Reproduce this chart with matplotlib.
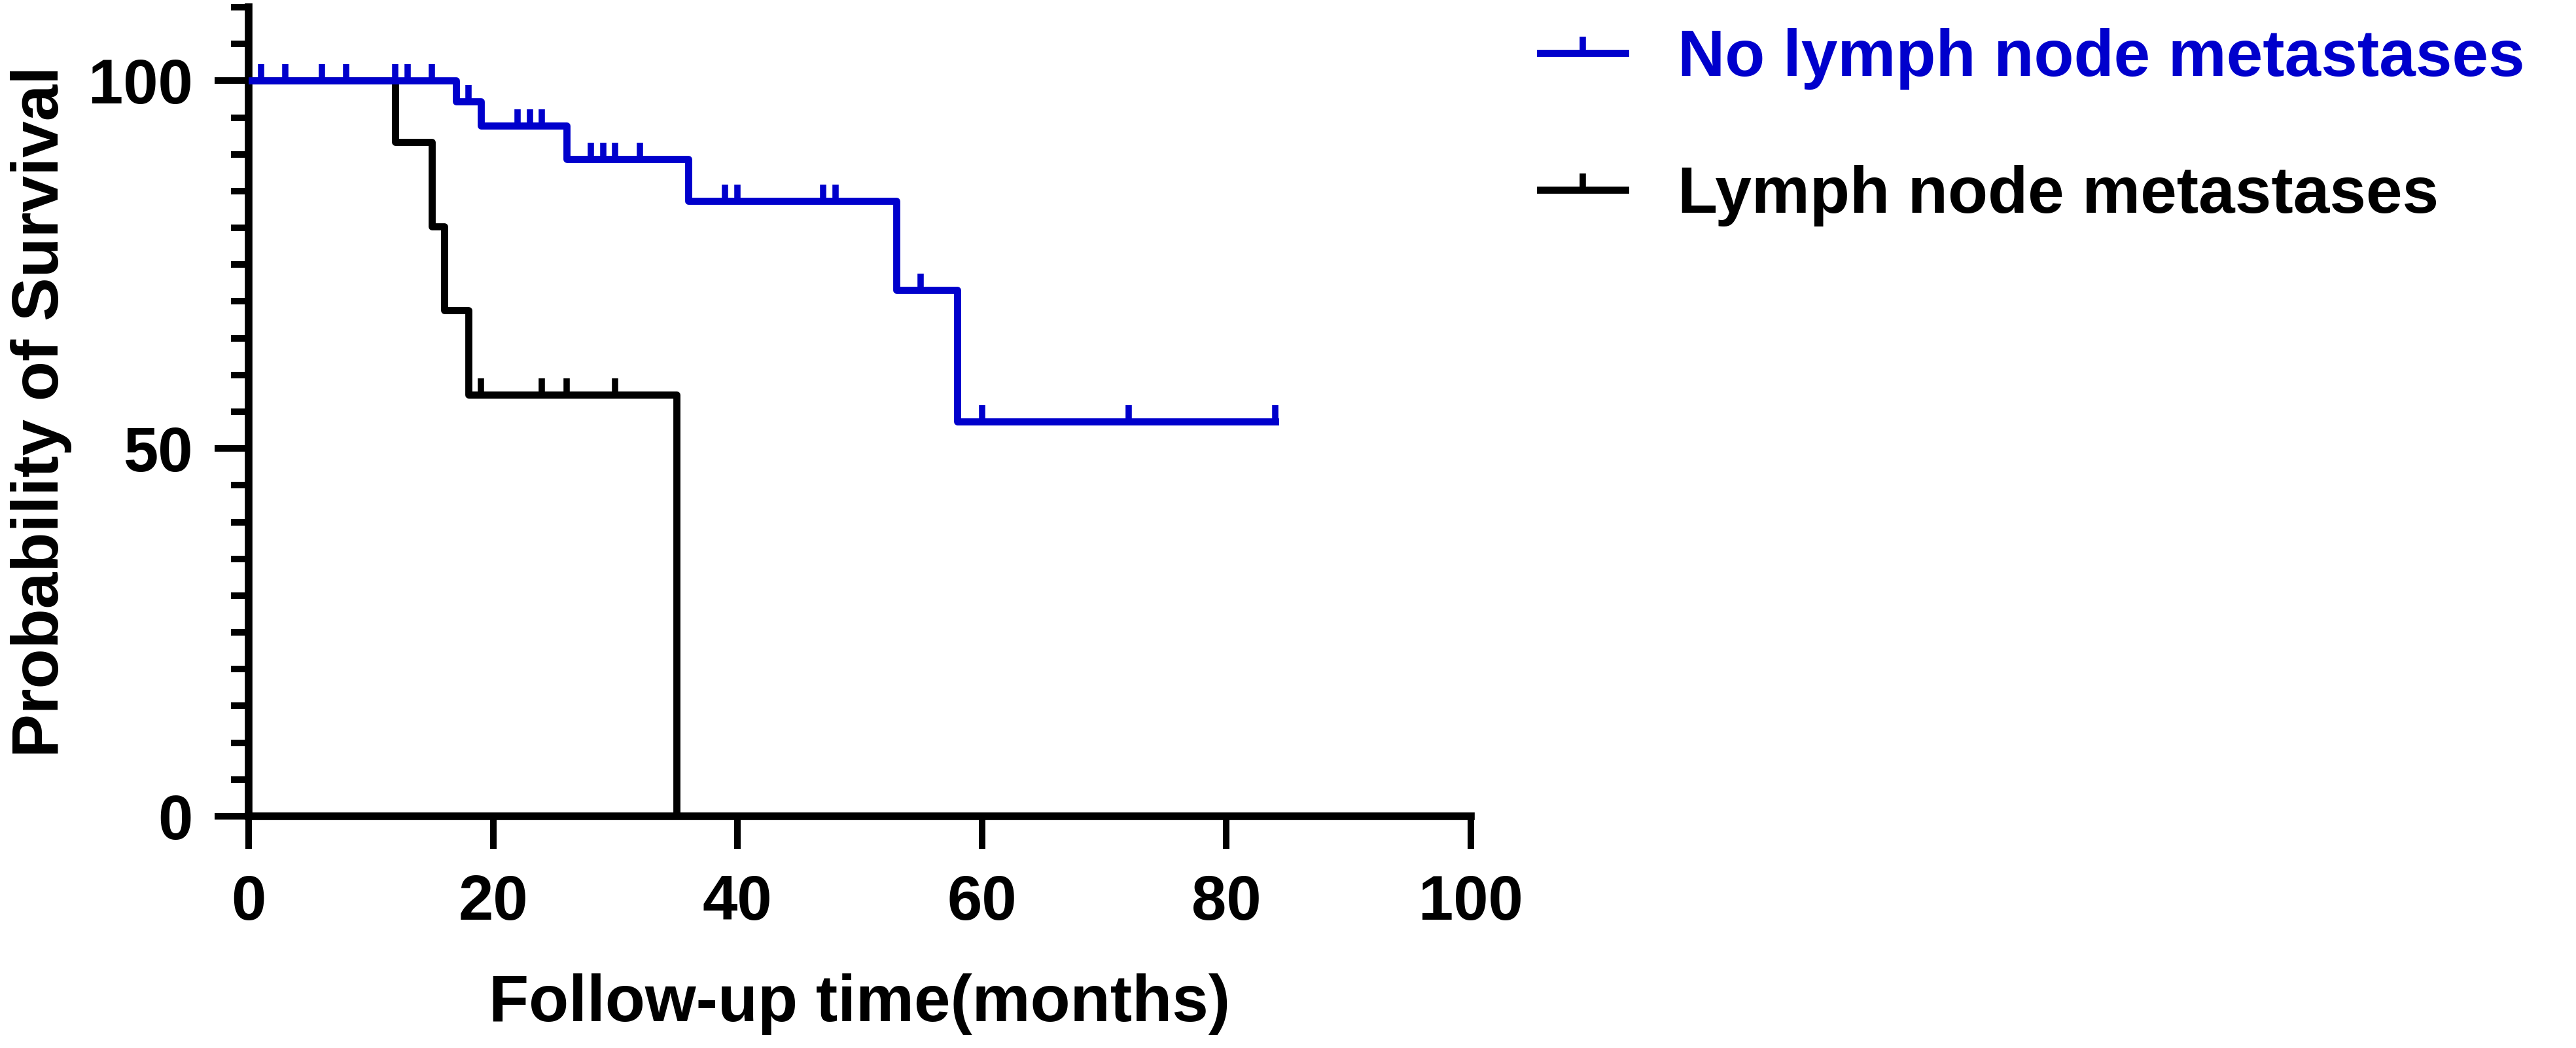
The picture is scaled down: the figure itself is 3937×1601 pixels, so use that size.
import matplotlib
matplotlib.use("Agg")
import matplotlib.pyplot as plt
from matplotlib.lines import Line2D
from matplotlib.ticker import MultipleLocator

plt.rcParams['font.family'] = ['Liberation Sans', 'DejaVu Sans']
plt.rcParams['font.weight'] = 'bold'

# survival curves (months, percent)
no_lnm_times = [0, 17, 19, 26, 36, 53, 58, 84]
no_lnm_surv = [100, 97.2, 93.9, 89.4, 83.7, 71.6, 53.7, 53.7]
no_lnm_cens_t = [1, 3, 6, 8, 12, 13, 15, 18, 22, 23, 24, 28, 29, 30, 32,
                 39, 40, 47, 48, 55, 60, 72, 84]

lnm_times = [0, 12, 15, 16, 18, 35]
lnm_surv = [100, 91.7, 80.2, 68.8, 57.3, 0]
lnm_cens_t = [19, 24, 26, 30]

labels = ["No lymph node metastases", "Lymph node metastases"]
colors = ["#0000CC", "#000000"]


def surv_at(times, surv, t):
    s = surv[0]
    for ti, si in zip(times, surv):
        if ti <= t:
            s = si
    return s


# upward censor tick
cens_marker = [(0, 0), (0, 1)]
LW = 2.6

fig = plt.figure(figsize=(3937 / 300, 1601 / 300), dpi=300)
ax = fig.add_axes([0.0965, 0.2211, 0.4745, 0.772])

ax.step(lnm_times, lnm_surv, where='post', color=colors[1], lw=LW,
        solid_joinstyle='round', zorder=3)
ax.plot(lnm_cens_t, [surv_at(lnm_times, lnm_surv, t) for t in lnm_cens_t],
        ls='none', marker=cens_marker, ms=12, mew=2.3, color=colors[1], zorder=3)

ax.step(no_lnm_times, no_lnm_surv, where='post', color=colors[0], lw=LW,
        solid_joinstyle='round', zorder=4)
ax.plot(no_lnm_cens_t, [surv_at(no_lnm_times, no_lnm_surv, t) for t in no_lnm_cens_t],
        ls='none', marker=cens_marker, ms=12, mew=2.3, color=colors[0], zorder=4)

ax.set_xlim(0, 100)
ax.set_ylim(0, 110)
ax.set_xticks([0, 20, 40, 60, 80, 100])
ax.set_yticks([0, 50, 100])
ax.yaxis.set_minor_locator(MultipleLocator(5))

for side in ['top', 'right']:
    ax.spines[side].set_visible(False)
for side in ['left', 'bottom']:
    ax.spines[side].set_linewidth(2.8)

ax.tick_params(axis='x', which='major', length=12, width=2.4, direction='out',
               labelsize=23, pad=9)
ax.tick_params(axis='y', which='major', length=12.5, width=2.4, direction='out',
               labelsize=23, pad=8)
ax.tick_params(axis='y', which='minor', length=6.5, width=2.4, direction='out')
ax.tick_params(axis='x', which='minor', bottom=False)

ax.set_xlabel("Follow-up time(months)", fontsize=24, fontweight='bold', labelpad=15)
ax.set_ylabel("Probability of Survival", fontsize=24, fontweight='bold', labelpad=6)

handles = [Line2D([], [], color=c, lw=LW, marker=cens_marker, ms=12, mew=2.3)
           for c in colors]
leg = fig.legend(handles, labels, loc='upper left', bbox_to_anchor=(0.598, 0.973),
                 frameon=False, fontsize=24, handlelength=1.3, handletextpad=0.8,
                 labelspacing=1.15, numpoints=1, borderpad=0, borderaxespad=0)
for txt, c in zip(leg.get_texts(), colors):
    txt.set_color(c)
    txt.set_fontweight('bold')

fig.savefig("out.png", dpi=300)
